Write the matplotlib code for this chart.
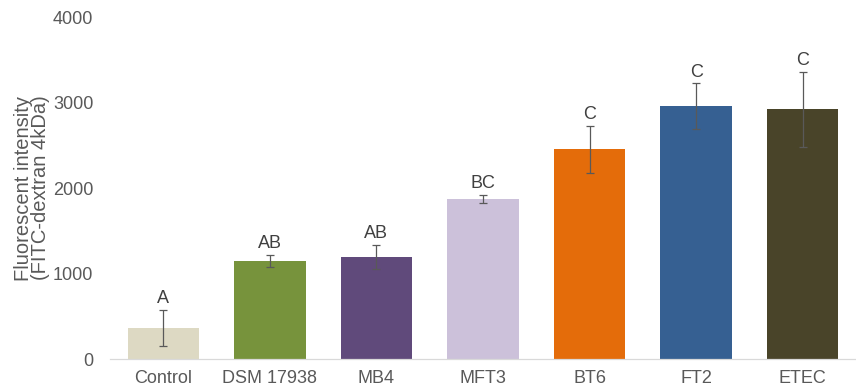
import matplotlib
matplotlib.use('Agg')
import matplotlib.pyplot as plt
import numpy as np

plt.rcParams['font.family'] = ['Liberation Sans', 'DejaVu Sans']

groups  = ['Control', 'DSM 17938', 'MB4', 'MFT3', 'BT6', 'FT2', 'ETEC']
means   = [362, 1145, 1195, 1875, 2455, 2955, 2920]
errs    = [210, 70, 140, 45, 275, 270, 435]
letters = ['A', 'AB', 'AB', 'BC', 'C', 'C', 'C']
colors  = ['#DDD9C3', '#77933C', '#604A7B', '#CCC1DA', '#E46C0A', '#366092', '#494429']

grey = '#595959'

fig = plt.figure(figsize=(8.56, 3.89), dpi=100)
ax = fig.add_axes([0.1285, 0.0771, 0.8715, 0.879])

x = np.arange(len(groups))
ax.bar(x, means, width=0.67, color=colors, zorder=2)
ax.errorbar(x, means, yerr=errs, fmt='none', ecolor='#595959', elinewidth=0.9,
            capsize=3, capthick=0.9, zorder=3)

for xi, m, e, t in zip(x, means, errs, letters):
    ax.annotate(t, (xi, m + e), xytext=(0, 2), textcoords='offset points',
                ha='center', va='bottom', fontsize=13, color='#404040')

ax.set_xlim(-0.5, 6.5)
ax.set_ylim(0, 4000)
ax.set_yticks([0, 1000, 2000, 3000, 4000])
ax.set_xticks(x)
ax.set_xticklabels(groups)

for s in ['top', 'right', 'left']:
    ax.spines[s].set_visible(False)
ax.spines['bottom'].set_color('#D9D9D9')
ax.spines['bottom'].set_linewidth(0.9)
ax.tick_params(axis='both', length=0, colors=grey, labelsize=13)
ax.tick_params(axis='y', pad=12)
ax.tick_params(axis='x', pad=8)

ax.set_ylabel('Fluorescent intensity\n(FITC-dextran 4kDa)', color=grey,
              fontsize=14.5, linespacing=0.9, labelpad=2)

fig.savefig('out.png', dpi=100)
